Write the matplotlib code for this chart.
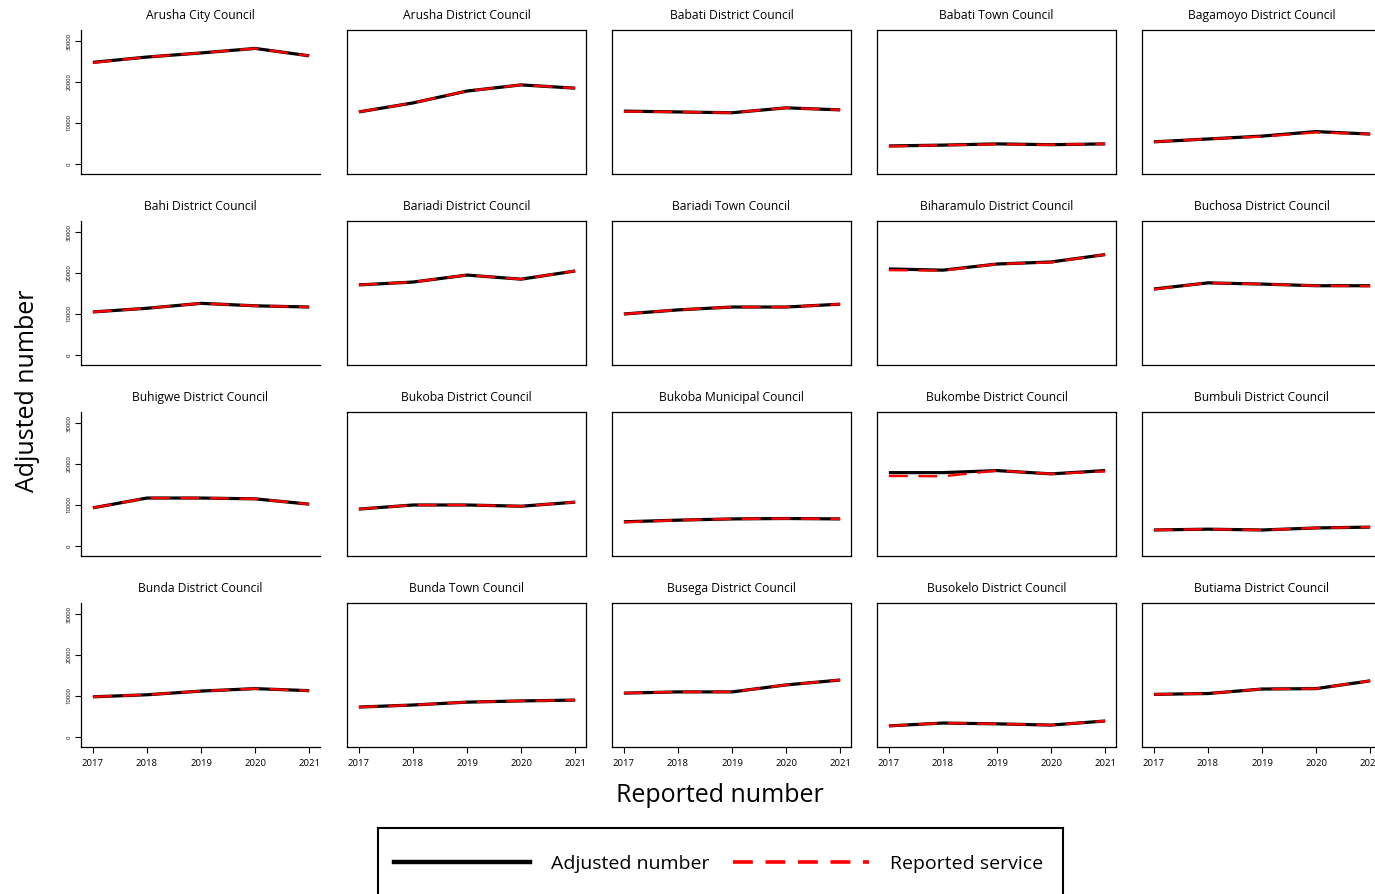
import matplotlib
matplotlib.use('Agg')
import matplotlib.pyplot as plt
from matplotlib.lines import Line2D

plt.rcParams['font.family'] = ['Open Sans', 'DejaVu Sans']

years = [2017, 2018, 2019, 2020, 2021]

councils = [
    'Arusha City Council', 'Arusha District Council', 'Babati District Council',
    'Babati Town Council', 'Bagamoyo District Council',
    'Bahi District Council', 'Bariadi District Council', 'Bariadi Town Council',
    'Biharamulo District Council', 'Buchosa District Council',
    'Buhigwe District Council', 'Bukoba District Council', 'Bukoba Municipal Council',
    'Bukombe District Council', 'Bumbuli District Council',
    'Bunda District Council', 'Bunda Town Council', 'Busega District Council',
    'Busokelo District Council', 'Butiama District Council',
]

# adjusted number per council, 2017..2021
adjusted = [
    [24800, 26100, 27100, 28200, 26400],
    [12700, 14900, 17800, 19300, 18500],
    [12900, 12700, 12500, 13700, 13200],
    [4400, 4600, 4900, 4700, 4900],
    [5400, 6100, 6800, 7900, 7300],
    [10500, 11400, 12600, 12000, 11700],
    [17100, 17800, 19500, 18500, 20500],
    [10000, 11000, 11700, 11700, 12400],
    [21000, 20700, 22200, 22700, 24500],
    [16100, 17600, 17300, 16900, 16900],
    [9300, 11700, 11700, 11500, 10200],
    [9000, 10000, 10000, 9700, 10700],
    [5900, 6300, 6600, 6700, 6600],
    [17900, 17900, 18400, 17600, 18400],
    [3900, 4100, 3900, 4400, 4600],
    [9800, 10300, 11200, 11800, 11300],
    [7300, 7800, 8500, 8800, 9000],
    [10700, 11000, 11000, 12700, 13900],
    [2700, 3400, 3200, 2900, 3900],
    [10400, 10600, 11700, 11800, 13700],
]

# reported service per council, 2017..2021
reported = [
    [24700, 26100, 27100, 28200, 26400],
    [12700, 14900, 17800, 19300, 18500],
    [12800, 12700, 12500, 13700, 13200],
    [4300, 4600, 4800, 4700, 4900],
    [5400, 6100, 6700, 7700, 7300],
    [10500, 11400, 12600, 12000, 11700],
    [17100, 17800, 19500, 18500, 20500],
    [10000, 11000, 11700, 11700, 12400],
    [20700, 20600, 22200, 22600, 24500],
    [16000, 17600, 17300, 16900, 16800],
    [9300, 11700, 11700, 11500, 10200],
    [9000, 10000, 10000, 9700, 10700],
    [5800, 6300, 6600, 6700, 6600],
    [17100, 17000, 18400, 17600, 18200],
    [3900, 4100, 3900, 4400, 4600],
    [9800, 10300, 11200, 11800, 11300],
    [7300, 7800, 8500, 8800, 9000],
    [10700, 11000, 11000, 12700, 13900],
    [2700, 3400, 3200, 2900, 3900],
    [10400, 10600, 11700, 11800, 13700],
]

y_ticks = [0, 10000, 20000, 30000]

W, H = 1375, 894
fig = plt.figure(figsize=(W / 100, H / 100), dpi=100)

col_left = [81, 347, 612, 877, 1142]
row_top = [30, 221, 412, 603]
pw, ph = 239, 144

for i, name in enumerate(councils):
    r, c = divmod(i, 5)
    ax = fig.add_axes([col_left[c] / W, 1 - (row_top[r] + ph) / H, pw / W, ph / H])
    ax.plot(years, adjusted[i], color='black', lw=2.3, solid_capstyle='butt')
    ax.plot(years, reported[i], color='red', lw=1.7, linestyle=(0, (8, 4.5)))
    ax.set_xlim(2016.78, 2021.2)
    ax.set_ylim(-2450, 32700)
    ax.set_title(name, fontsize=8.7, pad=8)
    for s in ax.spines.values():
        s.set_linewidth(0.9)
    if c == 0:
        ax.spines['top'].set_visible(False)
        ax.spines['right'].set_visible(False)
        ax.set_yticks(y_ticks)
        ax.set_yticklabels([str(t) for t in y_ticks], rotation=90, va='center', fontsize=4.3)
        ax.tick_params(axis='y', length=4, width=0.8, pad=3)
    else:
        ax.set_yticks([])
    if r == 3:
        ax.set_xticks(years)
        ax.tick_params(axis='x', length=4.5, width=0.8, labelsize=6.8, pad=4)
    else:
        ax.set_xticks([])

fig.text(28 / W, 1 - 391 / H, 'Adjusted number', rotation=90, ha='center', va='center', fontsize=18)
fig.text(720 / W, 1 - 795 / H, 'Reported number', ha='center', va='center', fontsize=18)

# legend box
lax = fig.add_axes([378 / W, -0.02, (1063 - 378) / W, (1 - 828 / H) + 0.02])
lax.set_xticks([])
lax.set_yticks([])
for s in lax.spines.values():
    s.set_linewidth(1.5)
handles = [
    Line2D([], [], color='black', lw=3.2),
    Line2D([], [], color='red', lw=2.6, linestyle=(0, (5.5, 3.5))),
]
lax.legend(handles, ['Adjusted number', 'Reported service'], ncol=2, frameon=False,
           loc='center left', bbox_to_anchor=(0.0, 0.57), fontsize=14,
           handlelength=7.0, handletextpad=1.1, columnspacing=1.2, borderaxespad=0.4)

fig.savefig('out.png', dpi=100)
